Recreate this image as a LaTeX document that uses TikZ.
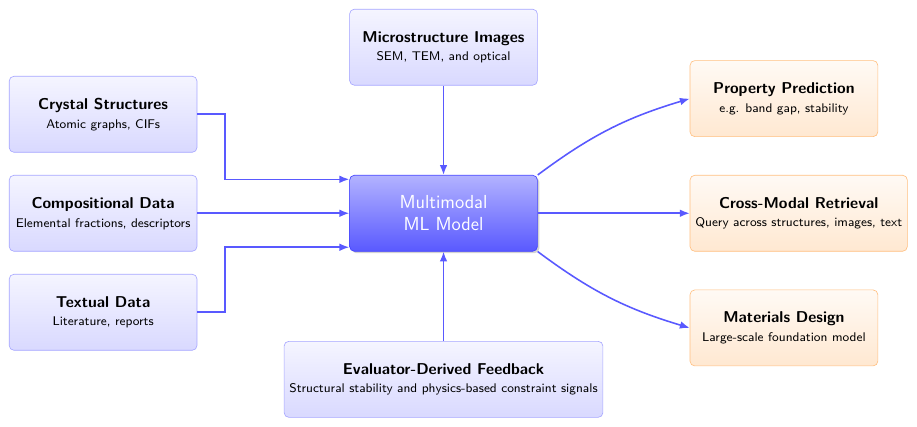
\documentclass[tikz,border=0pt]{standalone}
\usepackage{amsmath}
\usepackage{tikz}
\usetikzlibrary{positioning,shadows,arrows.meta}

\begin{document}
\begin{tikzpicture}[
    font=\sffamily,
    source/.style={draw=blue!35, rounded corners=3pt, top color=blue!4, bottom color=blue!15,
      minimum width=4.2cm, minimum height=1.7cm, align=center},
    target/.style={draw=orange!50, rounded corners=3pt, top color=orange!4, bottom color=orange!18,
      minimum width=4.2cm, minimum height=1.7cm, align=center},
    core/.style={draw=blue!75, rounded corners=3pt, top color=blue!30, bottom color=blue!65,
      minimum width=4.2cm, minimum height=1.7cm, align=center, text=white, font=\sffamily\large,
      drop shadow={opacity=0.35, shadow xshift=1.2pt, shadow yshift=-1.2pt}},
    flow/.style={draw=blue!65, line width=1pt, -{Latex[length=2.2mm, width=1.7mm]}},
  ]
  \useasboundingbox (-9.92,-4.77) rectangle (10.59,4.77);
  \node[core] (model) at (0,0) {Multimodal\\ML Model};
  % les entrees
  \node[source, left=3.4cm of model] (comp) {\textbf{Compositional Data}\\{\footnotesize Elemental fractions, descriptors}};
  \node[source, above=0.5cm of comp] (crystal) {\textbf{Crystal Structures}\\{\footnotesize Atomic graphs, CIFs}};
  \node[source, below=0.5cm of comp] (textual) {\textbf{Textual Data}\\{\footnotesize Literature, reports}};
  \node[source, above=2cm of model] (micro) {\textbf{Microstructure Images}\\{\footnotesize SEM, TEM, and optical}};
  \node[source, below=2cm of model] (feedback) {\textbf{Evaluator-Derived Feedback}\\{\footnotesize Structural stability and physics-based constraint signals}};
  % les sorties, alignees a gauche
  \node[target, right=3.4cm of model] (retrieval) {\textbf{Cross-Modal Retrieval}\\{\footnotesize Query across structures, images, text}};
  \node[target, above=0.85cm of retrieval.north west, anchor=south west] (property) {\textbf{Property Prediction}\\{\footnotesize e.g. band gap, stability}};
  \node[target, below=0.85cm of retrieval.south west, anchor=north west] (design) {\textbf{Materials Design}\\{\footnotesize Large-scale foundation model}};

  \draw[flow] (crystal.east) -- ++(0.62,0) |- ([yshift=0.76cm]model.west);
  \draw[flow] (comp.east) -- (comp.east -| model.west);
  \draw[flow] (textual.east) -- ++(0.62,0) |- ([yshift=-0.76cm]model.west);
  \draw[flow] (micro) -- (model);
  \draw[flow] (feedback) -- (model);
  \draw[flow] (model.north east) to[bend left=10] (property.west);
  \draw[flow] (model.east) -- (retrieval.west);
  \draw[flow] (model.south east) to[bend right=10] (design.west);
\end{tikzpicture}
\end{document}
